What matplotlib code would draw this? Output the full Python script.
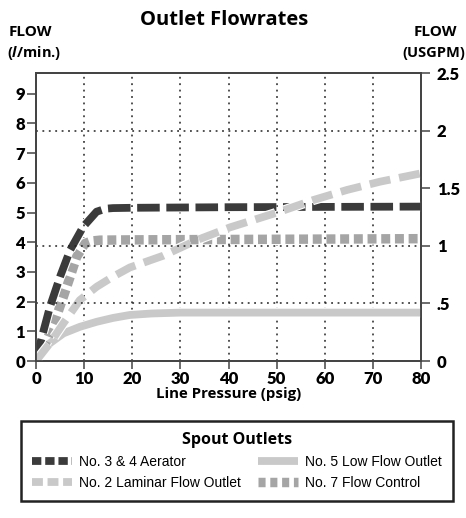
import matplotlib
matplotlib.use('Agg')
import matplotlib.pyplot as plt
import matplotlib.patheffects as pe
from matplotlib.lines import Line2D

# Flow curves, flow in l/min against line pressure in psig
aerator_psi = [0, 0.8, 2.9, 5.0, 7.1, 9.8, 12.6, 14.5, 16, 20, 40, 60, 80]
aerator_lpm = [0, 0.55, 1.83, 2.84, 3.74, 4.52, 5.03, 5.13, 5.15, 5.16, 5.18, 5.19, 5.2]

laminar_psi = [0, 2.9, 5.7, 9.1, 12.6, 16, 19.5, 26.5, 33.4, 40.3, 50.7, 57.6, 64.6, 71.5, 80]
laminar_lpm = [0, 0.6, 1.27, 2.05, 2.5, 2.84, 3.15, 3.55, 4.07, 4.5, 5.03, 5.42, 5.76, 6.04, 6.32]

lowflow_psi = [0, 0.8, 2.9, 5.7, 9.1, 12.6, 16, 19.5, 24, 30, 80]
lowflow_lpm = [0, 0.2, 0.6, 0.93, 1.15, 1.32, 1.45, 1.55, 1.6, 1.63, 1.63]

control_psi = [0, 2, 4, 5.7, 7.1, 8.45, 10.2, 11.5, 13.3, 20, 80]
control_lpm = [0, 0.6, 1.38, 2.17, 2.84, 3.51, 3.96, 4.04, 4.07, 4.08, 4.12]

x_ticks = [0, 10, 20, 30, 40, 50, 60, 70, 80]
x_grid = [10, 20, 30, 40, 50, 60, 70]
lpm_ticks = [0, 1, 2, 3, 4, 5, 6, 7, 8, 9]
usgpm_ticks = [0, 0.5, 1, 1.5, 2, 2.5]
usgpm_labels = ['0', '.5', '1', '1.5', '2', '2.5']
usgpm_grid = [0.5, 1, 2]

plt.rcParams['mathtext.fontset'] = 'custom'
plt.rcParams['mathtext.it'] = 'Open Sans:italic:bold'
plt.rcParams['mathtext.rm'] = 'Open Sans:bold'

dark = '#3b3b3b'
spine_col = '#444444'
digit_font = dict(family='Lato', weight='heavy')
head_font = dict(family='Open Sans', weight='bold')

fig = plt.figure(figsize=(4.66, 5.18), dpi=100)
ax = fig.add_axes([36/466, 157/518, 385/466, 288/518])
ax2 = ax.twinx()

ax.set_xlim(0, 80)
ax.set_ylim(0, 9.7)
ax2.set_ylim(0, 2.5)

# dotted grid, vertical at every 10 psig, horizontal on USGPM levels
for gx in x_grid:
    ax.axvline(gx, color='#222222', linestyle=(0, (1.2, 3)), linewidth=1.1, zorder=1)
for gy in usgpm_grid:
    ax2.axhline(gy, color='#222222', linestyle=(0, (1.2, 3)), linewidth=1.1, zorder=1)

halo = [pe.Stroke(linewidth=7.2, foreground='white'), pe.Normal()]
ax.plot(lowflow_psi, lowflow_lpm, color='#c9c9c9', linewidth=5.6, solid_capstyle='butt',
        path_effects=halo, zorder=3)
ax.plot(control_psi, control_lpm, color='#a5a5a5', linewidth=6.8, linestyle=(0, (0.95, 0.5)),
        dash_capstyle='butt', path_effects=[pe.Stroke(linewidth=8.4, foreground='white'), pe.Normal()], zorder=4)
ax.plot(aerator_psi, aerator_lpm, color=dark, linewidth=5.6, linestyle=(0, (2.9, 0.85)),
        dash_capstyle='butt', path_effects=halo, zorder=5)
ax.plot(laminar_psi, laminar_lpm, color='#c9c9c9', linewidth=5.6, linestyle=(0, (2.7, 1.15)),
        dash_capstyle='butt', path_effects=halo, zorder=6)

# axes frame and ticks
for a in (ax, ax2):
    for s in a.spines.values():
        s.set_color(spine_col)
        s.set_linewidth(1.3)

ax.set_xticks(x_ticks)
ax.set_xticklabels([str(v) for v in x_ticks], fontsize=12, **digit_font)
ax.set_yticks(lpm_ticks)
ax.set_yticklabels([str(v) for v in lpm_ticks], fontsize=12, **digit_font)
ax.tick_params(axis='x', direction='out', length=6, width=1.1, color=spine_col, pad=1)
ax.tick_params(axis='y', direction='out', length=6.5, width=1.1, color=spine_col, pad=1.5)
ax2.set_yticks(usgpm_ticks)
ax2.set_yticklabels(usgpm_labels, fontsize=12, **digit_font)
ax2.tick_params(axis='y', direction='out', length=6.5, width=1.1, color=spine_col, pad=5)

ax.set_xlabel('Line Pressure (psig)', fontsize=10.8, labelpad=0.5, **head_font)

# titles and axis captions
fig.text(224/466, 1 - 20/518, 'Outlet Flowrates', ha='center', va='center', fontsize=14.5, **head_font)
fig.text(9/466, 1 - 32/518, 'FLOW', ha='left', va='center', fontsize=11, **head_font)
fig.text(7/466, 1 - 53/518, r'($\mathit{l}$/min.)', ha='left', va='center', fontsize=10.5, **head_font)
fig.text(457/466, 1 - 32/518, 'FLOW', ha='right', va='center', fontsize=11, **head_font)
fig.text(465/466, 1 - 53/518, '(USGPM)', ha='right', va='center', fontsize=10.5, **head_font)

# legend below the chart
handles = [
    Line2D([], [], color=dark, linewidth=5.6, linestyle=(0, (1.2, 0.5)), dash_capstyle='butt'),
    Line2D([], [], color='#c9c9c9', linewidth=5.6, linestyle=(0, (1.4, 0.6)), dash_capstyle='butt'),
    Line2D([], [], color='#c9c9c9', linewidth=5.6, solid_capstyle='butt'),
    Line2D([], [], color='#a5a5a5', linewidth=6.8, linestyle=(0, (0.75, 0.5)), dash_capstyle='butt'),
]
labels = ['No. 3 & 4 Aerator', 'No. 2 Laminar Flow Outlet', 'No. 5 Low Flow Outlet', 'No. 7 Flow Control']
leg = fig.legend(handles, labels, ncol=2, loc='upper left',
                 bbox_to_anchor=(21/466, 1 - 514/518, 432/466, 93/518), mode='expand',
                 title='Spout Outlets', title_fontproperties=dict(family='Open Sans', weight='bold', size=11.5),
                 prop=dict(family='Liberation Sans', size=10), handlelength=2.9, handletextpad=0.5,
                 labelspacing=0.5, borderpad=0.8, borderaxespad=0, columnspacing=0.6,
                 fancybox=False, framealpha=1)
leg.get_frame().set_edgecolor('#222222')
leg.get_frame().set_linewidth(1.8)

fig.savefig('out.png', dpi=100)
